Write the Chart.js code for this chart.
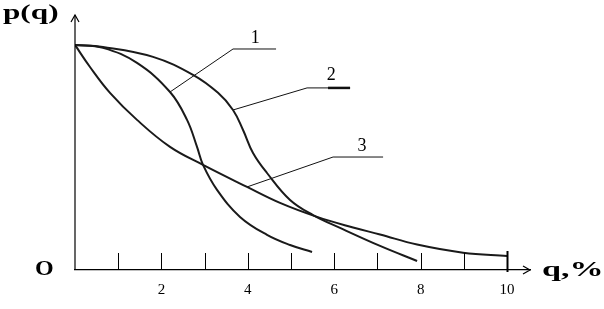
<!DOCTYPE html>
<html><head><meta charset="utf-8">
<script src="https://cdn.jsdelivr.net/npm/chart.js@4"></script>
<style>html,body{margin:0;padding:0;background:#fff}#wrap{width:604px;height:309px}</style>
</head><body><div id="wrap"><canvas id="c" width="604" height="309"></canvas></div>
<script>
// curve data (q in %, p(q) relative)
const curve1Q = [0, 0.648, 1.435, 2.199, 2.593, 2.824, 2.963, 3.287, 3.819, 4.444, 4.977, 5.486];
const curve1P = [1, 0.987, 0.920, 0.791, 0.667, 0.547, 0.467, 0.356, 0.236, 0.156, 0.111, 0.080];
const curve2Q = [0, 0.648, 1.806, 2.731, 3.310, 3.657, 3.889, 4.120, 4.444, 4.977, 5.509, 6.134, 7.060, 7.917];
const curve2P = [1, 0.991, 0.947, 0.867, 0.787, 0.711, 0.622, 0.520, 0.431, 0.311, 0.244, 0.187, 0.107, 0.040];
const curve3Q = [0, 0.347, 0.810, 1.435, 2.199, 2.963, 3.981, 4.745, 5.602, 6.435, 7.060, 7.917, 8.981, 10.0];
const curve3P = [1, 0.902, 0.787, 0.667, 0.547, 0.467, 0.369, 0.298, 0.236, 0.189, 0.158, 0.113, 0.077, 0.062];
// curve labels with leader lines
const curveNames = ["1", "2", "3"];
const labelQ = [4.17, 5.93, 6.64];
const labelP = [1.031, 0.867, 0.549];
const leader1Q = [2.199, 3.657, 4.653], leader1P = [0.791, 0.982, 0.982];
const leader2Q = [3.657, 5.37, 6.366], leader2P = [0.711, 0.809, 0.809];
const leader2EndQ = [5.856, 6.366], leader2EndP = [0.809, 0.809];
const leader3Q = [3.981, 5.972, 7.130], leader3P = [0.369, 0.502, 0.502];
// axis ticks
const tickValues = [1, 2, 3, 4, 5, 6, 7, 8, 9, 10];
const tickLabels = ["", "2", "", "4", "", "6", "", "8", "", "10"];
const xTitle = "q,%", yTitle = "p(q)", originLabel = "O";

const pts = (q, p) => q.map((v, i) => ({x: v, y: p[i]}));
const curveDs = (q, p) => ({data: pts(q, p), borderColor: '#1a1a1a', borderWidth: 2, pointRadius: 0, tension: 0.4, fill: false});
const leaderDs = (q, p, w) => ({data: pts(q, p), borderColor: '#111', borderWidth: w || 1, pointRadius: 0, tension: 0, fill: false});

const SERIF = '"Liberation Serif", "Times New Roman", serif';

const deco = {
  id: 'deco',
  afterDraw(chart) {
    const ctx = chart.ctx, xs = chart.scales.x, ys = chart.scales.y, a = chart.chartArea;
    const x0 = xs.getPixelForValue(0), y0 = ys.getPixelForValue(0);
    ctx.save();
    ctx.strokeStyle = '#000'; ctx.fillStyle = '#000';
    // y axis
    ctx.lineWidth = 1.2;
    ctx.beginPath(); ctx.moveTo(x0, y0); ctx.lineTo(x0, a.top); ctx.stroke();
    ctx.beginPath(); ctx.moveTo(x0 - 4, a.top + 7); ctx.lineTo(x0, a.top); ctx.lineTo(x0 + 4, a.top + 7); ctx.stroke();
    // x arrow
    ctx.beginPath(); ctx.moveTo(a.right - 7, y0 - 4); ctx.lineTo(a.right, y0); ctx.lineTo(a.right - 7, y0 + 4); ctx.stroke();
    // tick marks upward
    tickValues.forEach((v, i) => {
      const last = i === tickValues.length - 1;
      ctx.lineWidth = last ? 2 : 1;
      const px = Math.round(xs.getPixelForValue(v)) + 0.5;
      ctx.beginPath(); ctx.moveTo(px, y0 + (last ? 2 : 0)); ctx.lineTo(px, y0 - (last ? 19 : 17)); ctx.stroke();
    });
    // tick labels
    ctx.font = '15px ' + SERIF; ctx.textAlign = 'center'; ctx.textBaseline = 'middle';
    tickValues.forEach((v, i) => {
      if (tickLabels[i]) ctx.fillText(tickLabels[i], xs.getPixelForValue(v), y0 + 20);
    });
    // curve labels
    ctx.font = '18px ' + SERIF;
    curveNames.forEach((n, i) => ctx.fillText(n, xs.getPixelForValue(labelQ[i]), ys.getPixelForValue(labelP[i])));
    // axis titles (wide bold serif)
    const wide = (txt, x, y, size, sx) => {
      ctx.save(); ctx.translate(x, y); ctx.scale(sx, 1);
      ctx.font = 'bold ' + size + 'px ' + SERIF; ctx.textAlign = 'left'; ctx.textBaseline = 'middle';
      ctx.fillText(txt, 0, 0); ctx.restore();
    };
    wide(yTitle, 3, 13, 22, 1.42);
    wide(xTitle, 542, y0, 22, 1.55);
    wide(originLabel, 35, y0, 20, 1.2);
    ctx.restore();
  }
};

new Chart(document.getElementById('c'), {
  type: 'line',
  data: {
    datasets: [
      curveDs(curve1Q, curve1P), curveDs(curve2Q, curve2P), curveDs(curve3Q, curve3P),
      leaderDs(leader1Q, leader1P), leaderDs(leader2Q, leader2P), leaderDs(leader2EndQ, leader2EndP, 2.5),
      leaderDs(leader3Q, leader3P)
    ]
  },
  options: {
    responsive: false, animation: false,
    layout: {padding: {left: 75, right: 74, top: 15, bottom: 39}},
    plugins: {legend: {display: false}, tooltip: {enabled: false}},
    scales: {
      x: {type: 'linear', min: 0, max: 10.53, display: true,
          grid: {display: false, drawTicks: false},
          border: {display: true, color: '#000', width: 1.2},
          ticks: {display: false}},
      y: {type: 'linear', min: 0, max: 1.133, display: false}
    }
  },
  plugins: [deco]
});
</script></body></html>
